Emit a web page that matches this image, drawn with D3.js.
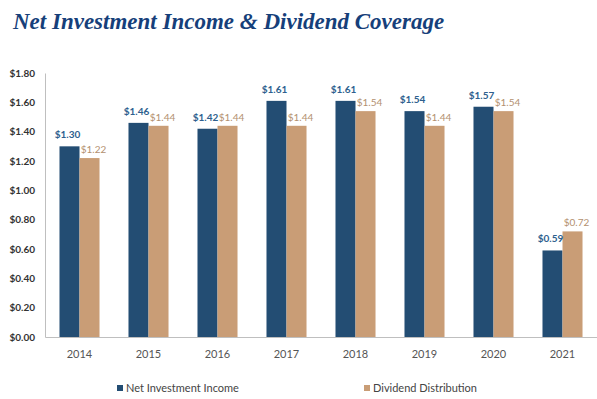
<!DOCTYPE html>
<html>
<head>
<meta charset="utf-8">
<script src="https://cdn.jsdelivr.net/npm/d3@7"></script>
<style>
  body { margin: 0; background: #fff; }
  svg { display: block; }
</style>
</head>
<body>
<div id="chart"></div>
<script>
  var years = ["2014", "2015", "2016", "2017", "2018", "2019", "2020", "2021"];
  var netInvestmentIncome = [1.30, 1.46, 1.42, 1.61, 1.61, 1.54, 1.57, 0.59];
  var dividendDistribution = [1.22, 1.44, 1.44, 1.44, 1.54, 1.44, 1.54, 0.72];
  var yTicks = [0, 0.2, 0.4, 0.6, 0.8, 1.0, 1.2, 1.4, 1.6, 1.8];
  var seriesNames = ["Net Investment Income", "Dividend Distribution"];

  var width = 597;
  var height = 399;
  var colors = ["#234d73", "#c99d76"];
  var labelColors = ["#2e5f8e", "#b3906f"];
  // small nudge so neighbouring value labels don't collide
  var labelShift = [-2, 4];

  var svg = d3.select("#chart")
      .append("svg")
      .attr("width", width)
      .attr("height", height);

  // title
  svg.append("text")
      .attr("x", 13)
      .attr("y", 29)
      .attr("font-family", "'Liberation Serif', 'DejaVu Serif', serif")
      .attr("font-style", "italic")
      .attr("font-weight", "bold")
      .attr("font-size", 23)
      .attr("fill", "#163f7a")
      .text("Net Investment Income & Dividend Coverage");

  var x = d3.scaleBand()
      .domain(years)
      .range([45, 597])
      .paddingInner(0.42)
      .paddingOuter(0.21);

  var xSub = d3.scaleBand()
      .domain([0, 1])
      .range([0, x.bandwidth()]);

  var y = d3.scaleLinear()
      .domain([0, 1.8])
      .range([337, 73]);

  // y axis
  var yAxis = svg.append("g")
      .attr("transform", "translate(45,0)")
      .call(d3.axisLeft(y).tickValues(yTicks).tickSize(0).tickPadding(10)
          .tickFormat(d => "$" + d3.format(".2f")(d)));
  yAxis.select(".domain").attr("stroke", "#bfbfbf");
  yAxis.selectAll("text")
      .attr("font-family", "Lato, sans-serif")
      .attr("font-weight", "bold")
      .attr("font-size", 10)
      .attr("fill", "#333");

  // x axis
  var xAxis = svg.append("g")
      .attr("transform", "translate(0,337)")
      .call(d3.axisBottom(x).tickSize(0).tickPadding(13).tickSizeOuter(0));
  xAxis.select(".domain").attr("stroke", "#bfbfbf");
  xAxis.selectAll("text")
      .attr("font-family", "Lato, sans-serif")
      .attr("font-size", 11)
      .attr("fill", "#555");

  var rows = years.map((yr, i) => ({ year: yr, values: [netInvestmentIncome[i], dividendDistribution[i]] }));

  var groups = svg.append("g")
      .selectAll("g")
      .data(rows)
      .join("g")
      .attr("transform", d => "translate(" + x(d.year) + ",0)");

  groups.selectAll("rect")
      .data(d => d.values)
      .join("rect")
      .attr("x", (d, i) => xSub(i))
      .attr("y", d => y(d))
      .attr("width", xSub.bandwidth())
      .attr("height", d => y(0) - y(d))
      .attr("fill", (d, i) => colors[i]);

  groups.selectAll("text.val")
      .data(d => d.values)
      .join("text")
      .attr("class", "val")
      .attr("x", (d, i) => xSub(i) + xSub.bandwidth() / 2 + labelShift[i])
      .attr("y", (d, i) => y(d) - (i == 0 ? 8 : 5))
      .attr("text-anchor", "middle")
      .attr("font-family", "Lato, sans-serif")
      .attr("font-weight", (d, i) => i == 0 ? "bold" : "normal")
      .attr("font-size", 10)
      .attr("fill", (d, i) => labelColors[i])
      .text(d => "$" + d3.format(".2f")(d));

  // legend
  var legendX = [117, 364];
  var legend = svg.append("g")
      .selectAll("g")
      .data(seriesNames)
      .join("g")
      .attr("transform", (d, i) => "translate(" + legendX[i] + ",385)");

  legend.append("rect")
      .attr("width", 6)
      .attr("height", 6)
      .attr("fill", (d, i) => colors[i]);

  legend.append("text")
      .attr("x", 9)
      .attr("y", 7)
      .attr("font-family", "Lato, sans-serif")
      .attr("font-size", 11)
      .attr("fill", "#444")
      .text(d => d);
</script>
</body>
</html>
